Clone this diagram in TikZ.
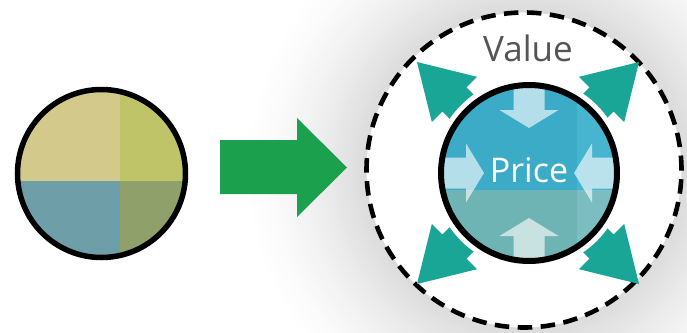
\documentclass[tikz,border=0pt]{standalone}
\usepackage{fontspec}
\setmainfont{Open Sans}
\definecolor{qtl}{HTML}{D3C98B}
\definecolor{qtr}{HTML}{BEC467}
\definecolor{qbl}{HTML}{6E9EA8}
\definecolor{qbr}{HTML}{8FA06A}
\definecolor{ptl}{HTML}{3CABC8}
\definecolor{ptr}{HTML}{48B5D0}
\definecolor{pbl}{HTML}{6FB4B5}
\definecolor{pbr}{HTML}{7BBDC0}
\definecolor{greenarrow}{HTML}{1BA04E}
\definecolor{tealarrow}{HTML}{1AA696}
\definecolor{valgray}{HTML}{555555}
\tikzset{
  ring/.style={circle, draw=black, inner sep=0pt},
  tealshape/.style={fill=tealarrow},
  lightshape/.style={fill=white, fill opacity=0.62},
}
\begin{document}
\begin{tikzpicture}[x=1pt,y=-1pt]
\useasboundingbox (0,0) rectangle (687,332);
\fill[white] (0,0) rectangle (687,332);
% background glow
\begin{scope}
\clip (0,0) rectangle (687,332);
\foreach \r in {280,277,...,159}{
  \pgfmathsetmacro\p{14*(1-(\r-159)/121)^1.4}
  \fill[black!\p] (524,170) circle (\r);
}
\end{scope}
% left circle
\begin{scope}
\clip (101.5,173.5) circle (84);
\fill[qtl] (10,80) rectangle (120,181);
\fill[qtr] (120,80) rectangle (200,181);
\fill[qbl] (10,181) rectangle (120,270);
\fill[qbr] (120,181) rectangle (200,270);
\end{scope}
\node[ring, line width=5.5pt, minimum size=168pt] (src) at (101.5,173.5) {};
% green arrow
\fill[greenarrow] (220,140) -- (297,140) -- (297,118) -- (347,167.5) -- (297,217) -- (297,194) -- (220,194) -- cycle;
% value circle
\node[ring, fill=white, line width=4.6pt, dash pattern=on 14.5pt off 8.5pt, minimum size=315pt] (val) at (524,170) {};
% teal arrows
\foreach \a in {45,135,225,315}{
  \begin{scope}[shift={(528,173)}, rotate=\a]
    \fill[tealshape] (0,-17) -- (104,-17) -- (104,-32) -- (157,0) -- (104,32) -- (104,17) -- (0,17) -- cycle;
  \end{scope}
}
% halo
\fill[white] (529,173) circle (96);
% price circle fill
\begin{scope}
\clip (529,173) circle (88);
\fill[ptl] (430,80) rectangle (577,190);
\fill[ptr] (577,80) rectangle (630,190);
\fill[pbl] (430,190) rectangle (577,270);
\fill[pbr] (577,190) rectangle (630,270);
\foreach \a in {0,90,180,270}{
  \begin{scope}[shift={(529,173)}, rotate=\a]
    \fill[lightshape] (45,0) -- (63,-29.5) -- (63,-15.5) -- (110,-15.5) -- (110,15.5) -- (63,15.5) -- (63,29.5) -- cycle;
  \end{scope}
}
\end{scope}
\node[ring, line width=6pt, minimum size=176pt] (price) at (529,173) {};
\node[text=white, font=\fontsize{34}{34}\selectfont, inner sep=0pt] (pt) at (529,170) {Price};
\node[text=valgray, font=\fontsize{35}{35}\selectfont, inner sep=0pt] (vt) at (528,48.5) {Value};
\end{tikzpicture}
\end{document}
